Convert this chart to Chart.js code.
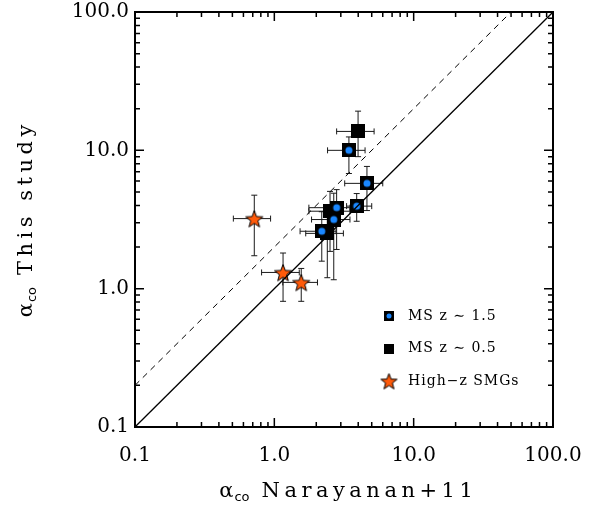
<!DOCTYPE html>
<html>
<head>
<meta charset="utf-8">
<script src="https://cdn.jsdelivr.net/npm/chart.js@4.4.0/dist/chart.umd.min.js"></script>
<style>
  body { margin: 0; background: #fff; }
</style>
</head>
<body>
<canvas id="grafico" width="592" height="506"></canvas>
<script>
// valores (alpha_co Narayanan+11 x alpha_co deste estudo)
const msAltoX = [3.43, 4.62, 3.90, 2.80, 2.67, 2.19];
const msAltoY = [10.0, 5.77, 3.95, 3.85, 3.16, 2.60];
const msAltoXmin = [2.41, 3.20, 3.30, 1.77, 1.85, 1.53];
const msAltoXmax = [4.48, 6.00, 5.00, 3.49, 3.49, 2.77];
const msAltoYmin = [6.80, 3.67, 3.07, 1.92, 1.16, 1.58];
const msAltoYmax = [12.5, 7.65, 4.87, 5.20, 4.90, 3.60];

const msBaixoX = [3.99, 2.51, 2.40];
const msBaixoY = [13.7, 3.63, 2.51];
const msBaixoXmin = [2.80, 1.77, 1.68];
const msBaixoXmax = [5.20, 3.49, 3.13];
const msBaixoYmin = [9.00, 1.86, 1.20];
const msBaixoYmax = [19.2, 5.05, 3.50];

const smgX = [0.718, 1.155, 1.56];
const smgY = [3.21, 1.31, 1.11];
const smgXmin = [0.508, 0.81, 1.15];
const smgXmax = [0.94, 1.51, 2.04];
const smgYmin = [1.73, 0.81, 0.81];
const smgYmax = [4.74, 1.81, 1.40];

// linhas 1:1 e 2:1
const linhaX = [0.1, 100];
const linhaY = [0.1, 100];
const tracejadaX = [0.1, 50];
const tracejadaY = [0.2, 100];

// marcas dos eixos
const ticksMaiores = [0.1, 1, 10, 100];
const rotulosTicks = ['0.1', '1.0', '10.0', '100.0'];
const ticksMenores = [];
for (let d = 0.1; d < 100; d *= 10) {
    for (let m = 2; m <= 9; m++) ticksMenores.push(+(d * m).toPrecision(3));
}

const azul = '#1a87ff';
const laranja = '#ff5a0a';

// simbolos desenhados em canvas
function quadrado(tam, comPonto) {
    const c = document.createElement('canvas');
    c.width = tam; c.height = tam;
    const ctx = c.getContext('2d');
    ctx.fillStyle = '#000';
    ctx.fillRect(0, 0, tam, tam);
    if (comPonto) {
        ctx.fillStyle = azul;
        ctx.beginPath();
        ctx.arc(tam / 2, tam / 2, tam * 0.25, 0, Math.PI * 2);
        ctx.fill();
    }
    return c;
}
function estrela(tam) {
    const c = document.createElement('canvas');
    c.width = tam; c.height = tam;
    const ctx = c.getContext('2d');
    const r = tam / 2 - 1, ri = r * 0.42, cx = tam / 2, cy = tam / 2 + 1;
    ctx.beginPath();
    for (let i = 0; i < 10; i++) {
        const a = -Math.PI / 2 + i * Math.PI / 5;
        const rr = i % 2 == 0 ? r : ri;
        ctx.lineTo(cx + rr * Math.cos(a), cy + rr * Math.sin(a));
    }
    ctx.closePath();
    ctx.fillStyle = laranja;
    ctx.fill();
    ctx.strokeStyle = '#000';
    ctx.lineWidth = 1;
    ctx.stroke();
    return c;
}

const simboloAzul = quadrado(14, true);
const simboloPreto = quadrado(14, false);
const simboloEstrela = estrela(20);

function pontos(xs, ys) {
    return xs.map((x, i) => ({ x: x, y: ys[i] }));
}

const series = [
    { xs: msAltoX, ys: msAltoY, x0: msAltoXmin, x1: msAltoXmax, y0: msAltoYmin, y1: msAltoYmax },
    { xs: msBaixoX, ys: msBaixoY, x0: msBaixoXmin, x1: msBaixoXmax, y0: msBaixoYmin, y1: msBaixoYmax },
    { xs: smgX, ys: smgY, x0: smgXmin, x1: smgXmax, y0: smgYmin, y1: smgYmax }
];

// barras de erro, antes dos simbolos
const barrasErro = {
    id: 'barrasErro',
    beforeDatasetsDraw(chart) {
        const ctx = chart.ctx, sx = chart.scales.x, sy = chart.scales.y;
        const cap = 3;
        ctx.save();
        ctx.strokeStyle = '#1a1a1a';
        ctx.lineWidth = 1;
        series.forEach(s => {
            s.xs.forEach((x, i) => {
                const px = sx.getPixelForValue(x), py = sy.getPixelForValue(s.ys[i]);
                const xa = sx.getPixelForValue(s.x0[i]), xb = sx.getPixelForValue(s.x1[i]);
                const ya = sy.getPixelForValue(s.y0[i]), yb = sy.getPixelForValue(s.y1[i]);
                ctx.beginPath();
                ctx.moveTo(xa, py); ctx.lineTo(xb, py);
                ctx.moveTo(xa, py - cap); ctx.lineTo(xa, py + cap);
                ctx.moveTo(xb, py - cap); ctx.lineTo(xb, py + cap);
                ctx.moveTo(px, ya); ctx.lineTo(px, yb);
                ctx.moveTo(px - cap, ya); ctx.lineTo(px + cap, ya);
                ctx.moveTo(px - cap, yb); ctx.lineTo(px + cap, yb);
                ctx.stroke();
            });
        });
        ctx.restore();
    }
};

// moldura, marcas internas, titulos dos eixos e legenda
const moldura = {
    id: 'moldura',
    afterDraw(chart) {
        const ctx = chart.ctx, a = chart.chartArea;
        const sx = chart.scales.x, sy = chart.scales.y;
        ctx.save();
        ctx.strokeStyle = '#000';
        ctx.lineWidth = 1.5;
        ctx.beginPath();
        const marca = (v, len) => {
            const px = sx.getPixelForValue(v), py = sy.getPixelForValue(v);
            ctx.moveTo(px, a.bottom); ctx.lineTo(px, a.bottom - len);
            ctx.moveTo(px, a.top); ctx.lineTo(px, a.top + len);
            ctx.moveTo(a.left, py); ctx.lineTo(a.left + len, py);
            ctx.moveTo(a.right, py); ctx.lineTo(a.right - len, py);
        };
        ticksMaiores.forEach(v => marca(v, 9));
        ticksMenores.forEach(v => marca(v, 5));
        ctx.stroke();
        ctx.lineWidth = 2;
        ctx.strokeRect(a.left, a.top, a.right - a.left, a.bottom - a.top);

        // titulos (fonte espacada como no original)
        ctx.fillStyle = '#000';
        ctx.textBaseline = 'alphabetic';
        ctx.textAlign = 'left';
        function titulo(resto, cx, base) {
            const fa = '21px "DejaVu Serif"', fs = '13px "DejaVu Sans"';
            ctx.letterSpacing = '0px';
            ctx.font = fa; const wa = ctx.measureText('\u03b1').width + 1;
            ctx.font = fs; const ws = ctx.measureText('co').width + 12;
            ctx.letterSpacing = '4.5px';
            ctx.font = fa; const wr = ctx.measureText(resto).width - 4.5;
            let x = cx - (wa + ws + wr) / 2;
            ctx.letterSpacing = '0px';
            ctx.font = fa; ctx.fillText('\u03b1', x, base); x += wa;
            ctx.font = fs; ctx.fillText('co', x, base + 4); x += ws;
            ctx.letterSpacing = '4.5px';
            ctx.font = fa; ctx.fillText(resto, x, base);
            ctx.letterSpacing = '0px';
        }
        titulo('Narayanan+11', 346, 497);
        ctx.save();
        ctx.translate(32, 221);
        ctx.rotate(-Math.PI / 2);
        titulo('This study', 0, 0);
        ctx.restore();

        // legenda
        const itens = [
            [quadrado(10, true), 'MS z \u223c 1.5'],
            [quadrado(10, false), 'MS z \u223c 0.5'],
            [estrela(19), 'High\u2212z SMGs']
        ];
        ctx.font = '14px "DejaVu Serif"';
        ctx.letterSpacing = '1px';
        ctx.textBaseline = 'middle';
        itens.forEach((it, i) => {
            const cy = 316 + i * 32.5;
            const img = it[0];
            ctx.drawImage(img, 389 - img.width / 2, cy - img.height / 2);
            ctx.fillText(it[1], 408, cy);
        });
        ctx.letterSpacing = '0px';
        ctx.restore();
    }
};

const eixoLog = (lado) => ({
    type: 'logarithmic',
    min: 0.1,
    max: 100,
    grid: { display: false, drawTicks: false },
    border: { display: false },
    afterBuildTicks: (escala) => {
        escala.ticks = ticksMaiores.map(v => ({ value: v }));
    },
    ticks: {
        autoSkip: false,
        maxRotation: 0,
        color: '#000',
        font: { family: 'DejaVu Serif', size: 20 },
        padding: lado == 'x' ? 17 : 6,
        callback: (v) => {
            const i = ticksMaiores.indexOf(v);
            return i >= 0 ? rotulosTicks[i] : '';
        }
    },
    afterFit: (escala) => {
        if (lado == 'x') escala.height = 79;
        else escala.width = 135;
        // sem folga extra para rotulos das pontas
        escala.paddingLeft = 0;
        escala.paddingRight = 0;
        escala.paddingTop = 0;
        escala.paddingBottom = 0;
    }
});

new Chart(document.getElementById('grafico'), {
    type: 'scatter',
    data: {
        datasets: [
            {
                label: '1:1',
                data: pontos(linhaX, linhaY),
                showLine: true,
                borderColor: '#000',
                borderWidth: 1.3,
                pointRadius: 0,
                order: 0
            },
            {
                label: '2:1',
                data: pontos(tracejadaX, tracejadaY),
                showLine: true,
                borderColor: '#000',
                borderWidth: 1,
                borderDash: [6, 5],
                pointRadius: 0,
                order: 1
            },
            {
                label: 'High-z SMGs',
                data: pontos(smgX, smgY),
                pointStyle: simboloEstrela,
                order: 2
            },
            {
                label: 'MS z ~ 1.5',
                data: pontos(msAltoX, msAltoY),
                pointStyle: simboloAzul,
                order: 3
            },
            {
                label: 'MS z ~ 0.5',
                data: pontos(msBaixoX, msBaixoY),
                pointStyle: simboloPreto,
                order: 4
            }
        ]
    },
    options: {
        responsive: false,
        animation: false,
        layout: { padding: { top: 12, right: 39, left: 0, bottom: 0 } },
        plugins: { legend: { display: false }, tooltip: { enabled: false } },
        scales: { x: eixoLog('x'), y: eixoLog('y') }
    },
    plugins: [barrasErro, moldura]
});
</script>
</body>
</html>
